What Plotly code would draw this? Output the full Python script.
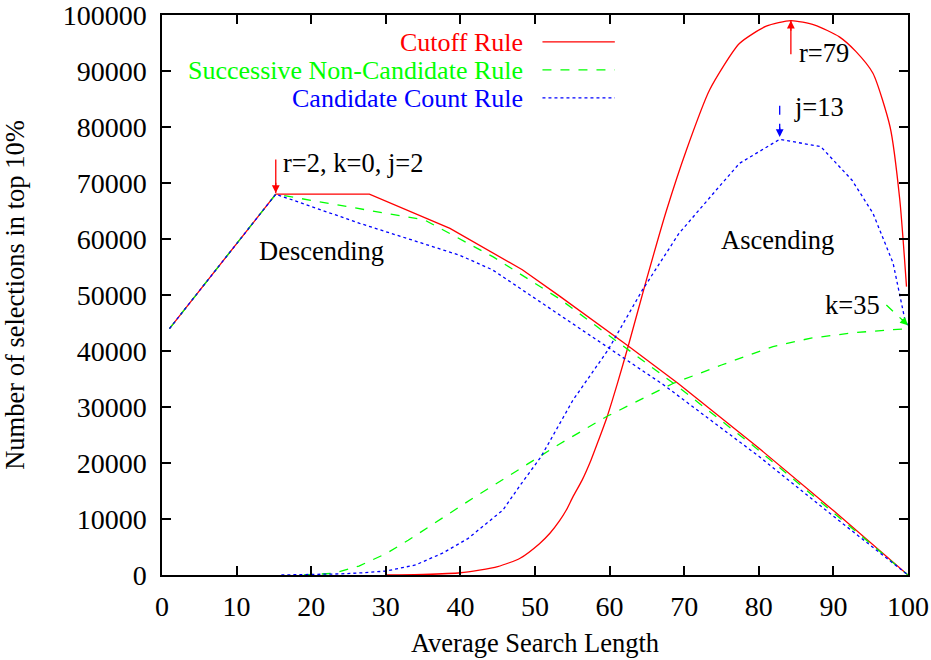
import plotly.graph_objects as go

# ---------------- data ----------------
# Descending curves (shared start)
cut_desc_x = [1, 15.25, 27.8, 38.6, 48.3, 53.3, 62.5, 69.2, 79.7, 90, 100]
cut_desc_y = [44000, 68000, 68000, 61900, 54500, 49800, 40900, 34200, 23000, 11500, 0]

snc_desc_x = [1, 15.25, 35.2, 44.4, 53.3, 62.5, 69.2, 79.7, 90, 100]
snc_desc_y = [44000, 68000, 63400, 56800, 49300, 40300, 33600, 22600, 11200, 0]

cc_desc_x = [1, 15.25, 26.5, 39.9, 44.3, 53.3, 62, 67.3, 80, 90, 100]
cc_desc_y = [44000, 68000, 62800, 57100, 54500, 46400, 38700, 33900, 21200, 10500, 0]

# Ascending curves
cut_asc_x = [30, 35, 40, 45, 48, 50.6, 52, 53.3, 54.2, 55.1, 56.3, 57.5, 58.5, 59.6,
             61, 62.5, 65, 67.6, 70.3, 73.4, 77.4, 81, 84.3, 87.5, 90.8, 93, 95.3,
             97.6, 98.9, 99.8]
cut_asc_y = [0, 100, 400, 1500, 3000, 5600, 7450, 9700, 11600, 14000, 16900, 20500,
             24000, 28000, 34000, 40900, 53000, 65000, 75900, 86600, 94900, 98000,
             99000, 98200, 96100, 93500, 89600, 80000, 67000, 51500]

snc_asc_x = [19, 23, 26.4, 30, 33, 37.6, 42, 46, 50.5, 53.3, 59.6, 63, 68.5, 75,
             81.9, 87, 93, 100]
snc_asc_y = [0, 300, 1600, 3800, 6200, 10200, 14000, 17300, 21000, 23400, 28300,
             30600, 34200, 37500, 40800, 42300, 43300, 44000]

cc_asc_x = [16, 20, 24, 27, 30, 34, 37.6, 41, 45.7, 48, 50.8, 55.1, 59.8, 64.4,
            69.3, 74.3, 77.4, 82.8, 88.3, 92.5, 95.3, 98, 99.6, 100]
cc_asc_y = [0, 50, 200, 400, 700, 1800, 3900, 6500, 11600, 16000, 21100, 31250,
            40200, 50900, 61000, 68750, 73500, 77800, 76500, 70500, 64600, 55700,
            45500, 44500]

series_names = ["Cutoff Rule", "Successive Non-Candidate Rule", "Candidate Count Rule"]
series_colors = ["#ff0000", "#00ff00", "#0000ff"]
series_dash = ["solid", "dash", "dot"]
asc_shape = ["spline", "linear", "linear"]

x_ticks = list(range(0, 101, 10))
y_ticks = list(range(0, 100001, 10000))

# annotations: label text, text position, arrow tail, arrow tip
ann_labels = ["r=2, k=0, j=2", "r=79", "j=13", "k=35"]
ann_text_x = [15.9, 85.1, 84.5, 92.6]
ann_text_y = [73600, 93300, 83600, 48200]
ann_anchor = ["left", "left", "left", "center"]
ann_tail_x = [15.25, 84.3, 82.8, 97.1]
ann_tail_y = [74200, 93000, 83800, 48200]
ann_tip_x = [15.25, 84.3, 82.8, 100]
ann_tip_y = [68200, 99000, 78200, 44600]
ann_color = ["#ff0000", "#ff0000", "#0000ff", "#00ff00"]
ann_dash = ["solid", "solid", "dash", "dash"]

region_labels = ["Descending", "Ascending"]
region_x = [21.4, 82.5]
region_y = [57900, 59800]

FONT = "Liberation Serif"
FS = 26.5
LFS = 25
TFS = 28

fig = go.Figure()

desc = [(cut_desc_x, cut_desc_y), (snc_desc_x, snc_desc_y), (cc_desc_x, cc_desc_y)]
asc = [(cut_asc_x, cut_asc_y), (snc_asc_x, snc_asc_y), (cc_asc_x, cc_asc_y)]

for i in range(3):
    xs, ys = desc[i]
    fig.add_trace(go.Scatter(
        x=xs, y=ys, mode="lines", name=series_names[i], showlegend=False,
        line=dict(color=series_colors[i], width=1.3, dash=series_dash[i]),
        hoverinfo="skip"))
    xs, ys = asc[i]
    fig.add_trace(go.Scatter(
        x=xs, y=ys, mode="lines", name=series_names[i], showlegend=False,
        line=dict(color=series_colors[i], width=1.3, dash=series_dash[i],
                  shape=asc_shape[i], smoothing=0.6),
        hoverinfo="skip"))

# arrow shafts
for i in range(len(ann_labels)):
    fig.add_trace(go.Scatter(
        x=[ann_tail_x[i], ann_tip_x[i]], y=[ann_tail_y[i], ann_tip_y[i]],
        mode="lines", showlegend=False, hoverinfo="skip",
        line=dict(color=ann_color[i], width=1.3, dash=ann_dash[i])))

annotations = []
for i in range(len(ann_labels)):
    annotations.append(dict(
        x=ann_text_x[i], y=ann_text_y[i], xref="x", yref="y", text=ann_labels[i],
        showarrow=False, xanchor=ann_anchor[i], yanchor="middle",
        font=dict(family=FONT, size=FS, color="black")))
    dx = ann_tail_x[i] - ann_tip_x[i]
    dy = ann_tail_y[i] - ann_tip_y[i]
    annotations.append(dict(
        x=ann_tip_x[i], y=ann_tip_y[i], xref="x", yref="y",
        ax=ann_tip_x[i] + dx * 0.35, ay=ann_tip_y[i] + dy * 0.35,
        axref="x", ayref="y", text="", showarrow=True, arrowhead=2,
        arrowsize=1.2, arrowwidth=1.3, arrowcolor=ann_color[i], standoff=0))

for i in range(len(region_labels)):
    annotations.append(dict(
        x=region_x[i], y=region_y[i], xref="x", yref="y", text=region_labels[i],
        showarrow=False, xanchor="center", yanchor="middle",
        font=dict(family=FONT, size=FS, color="black")))

# manual legend (text left, sample line right)
legend_rows_y = [0.952, 0.902, 0.852]
shapes = []
for i in range(3):
    annotations.append(dict(
        x=0.487, y=legend_rows_y[i], xref="paper", yref="paper",
        text=series_names[i], showarrow=False, xanchor="right", yanchor="middle",
        font=dict(family=FONT, size=LFS + 1 if i == 1 else LFS + 1, color=series_colors[i]),
        height=26))
    shapes.append(dict(
        type="line", xref="paper", yref="paper", x0=0.510, x1=0.607,
        y0=legend_rows_y[i], y1=legend_rows_y[i],
        line=dict(color=series_colors[i], width=1.3, dash=series_dash[i])))

axis_common = dict(
    showgrid=False, zeroline=False, showline=True, linecolor="black", linewidth=1.5,
    mirror="allticks", ticks="inside", ticklen=9, tickwidth=1.5, tickcolor="black",
    automargin=False, ticklabeloverflow="allow",
    tickfont=dict(family=FONT, size=TFS, color="black"))

fig.update_layout(
    width=931, height=660,
    margin=dict(l=162, r=23, t=15, b=85, autoexpand=False),
    paper_bgcolor="white", plot_bgcolor="white",
    showlegend=False,
    xaxis=dict(range=[0, 100], tickvals=x_ticks, ticklabelstandoff=6,
               title=dict(text="Average Search Length",
                          font=dict(family=FONT, size=FS, color="black"), standoff=12),
               **axis_common),
    yaxis=dict(range=[0, 100000], tickvals=y_ticks, tickformat="d", ticklabelstandoff=8,
               title=dict(text="Number of selections in top 10%",
                          font=dict(family=FONT, size=FS, color="black"), standoff=36),
               **axis_common),
    annotations=annotations, shapes=shapes,
)

fig.write_html("out.html")
